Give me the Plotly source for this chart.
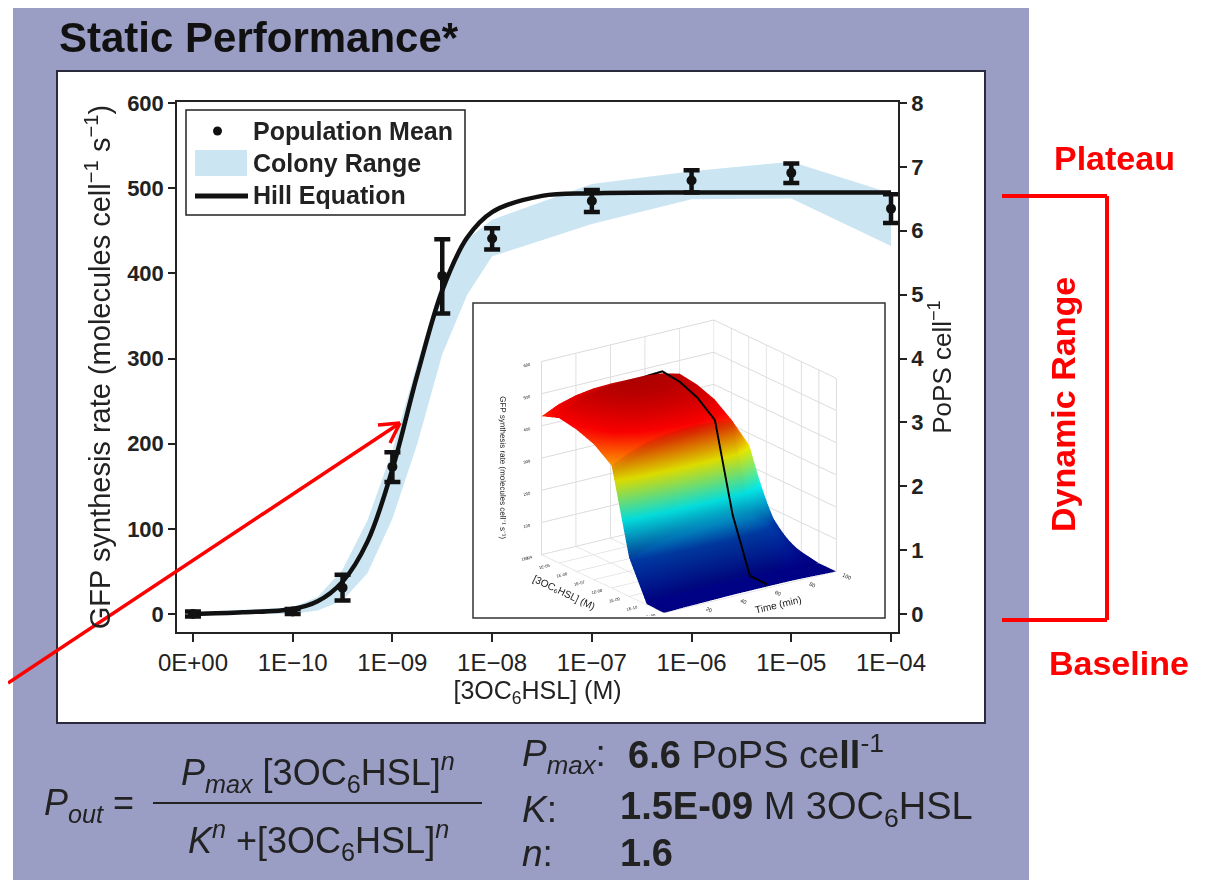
import plotly.graph_objects as go

W, H = 1212, 880
OFF = 8  # page body margin compensation

# ---------------- data ----------------
conc_ticks = [-11, -10, -9, -8, -7, -6, -5, -4]
conc_labels = ["0E+00", "1E−10", "1E−09", "1E−08", "1E−07", "1E−06", "1E−05", "1E−04"]

mean_x = [-11, -10, -9.5, -9, -8.5, -8, -7, -6, -5, -4]
mean_y = [0, 3, 31, 173, 397, 441, 485, 509, 518, 476]
err_plus = [3, 3, 15, 17, 43, 12, 13, 12, 11, 17]
err_minus = [3, 3, 15, 18, 44, 13, 13, 14, 12, 17]

band_x = [-11, -10, -9.75, -9.5, -9.25, -9, -8.75, -8.5, -8.25, -8, -7, -6, -5, -4]
band_hi = [2, 8, 20, 52, 110, 192, 295, 392, 440, 463, 505, 520, 531, 494]
band_lo = [0, 0, 4, 16, 48, 112, 200, 305, 375, 420, 458, 487, 488, 432]

hill_x = [-11, -10.5, -10, -9.75, -9.5, -9.25, -9, -8.75, -8.5, -8.25, -8, -7.5, -7, -6, -5, -4]
hill_y = [0, 2, 6, 15, 38, 85, 170, 281, 380, 442, 472, 491, 494, 495, 495, 495]

y_ticks = [0, 100, 200, 300, 400, 500, 600]
pops_ticks = [0, 1, 2, 3, 4, 5, 6, 7, 8]

# inset surface (rows: concentration level, columns: time)
inset_time = [0, 10, 20, 30, 40, 50, 60, 70, 80, 90, 100]
inset_conc = [0, 1, 2, 3, 4, 5, 6, 7]
inset_conc_labels = ["0E+00", "1E-10", "1E-09", "1E-08", "1E-07", "1E-06", "1E-05", "1E-04"]
inset_z = [
    [0, 2, 3, 4, 5, 5, 5, 5, 4, 2, 0],
    [2, 4, 5, 6, 6, 6, 6, 6, 5, 2, 0],
    [120, 140, 155, 165, 172, 175, 172, 165, 130, 60, 10],
    [380, 405, 425, 435, 440, 442, 438, 430, 340, 140, 20],
    [420, 450, 470, 480, 485, 486, 482, 470, 380, 150, 20],
    [440, 470, 490, 505, 510, 510, 505, 490, 400, 160, 25],
    [450, 480, 500, 512, 518, 518, 512, 498, 405, 165, 25],
    [430, 455, 470, 478, 480, 476, 470, 455, 370, 150, 20],
]
inset_line_time = 60
inset_line_z = [row[6] + 6 for row in inset_z]

# ---------------- helpers (pixel -> paper) ----------------
def px(x):
    return (x - OFF) / W

def py(y):
    return 1 - (y - OFF) / H

FONT = "Liberation Sans, Arial, sans-serif"

fig = go.Figure()

# colony range band
fig.add_trace(go.Scatter(
    x=band_x + band_x[::-1], y=band_hi + band_lo[::-1],
    fill="toself", fillcolor="#cbe6f2", line=dict(width=0),
    mode="lines", name="Colony Range", showlegend=False, hoverinfo="skip"))

# Hill equation
fig.add_trace(go.Scatter(
    x=hill_x, y=hill_y, mode="lines", line=dict(color="#111111", width=4.5, shape="spline"),
    name="Hill Equation", showlegend=False))

# population mean
fig.add_trace(go.Scatter(
    x=mean_x, y=mean_y, mode="markers",
    marker=dict(color="#111111", size=10),
    error_y=dict(type="data", array=err_plus, arrayminus=err_minus,
                 color="#111111", thickness=4.5, width=8),
    name="Population Mean", showlegend=False))

# dummy on right axis
fig.add_trace(go.Scatter(x=[None], y=[None], yaxis="y2", showlegend=False, hoverinfo="skip"))

# inset 3D surface
fig.add_trace(go.Surface(
    x=inset_time, y=inset_conc, z=inset_z, colorscale="Jet", cmin=0, cmax=560,
    showscale=False, scene="scene",
    lighting=dict(ambient=0.85, diffuse=0.35, specular=0.05, roughness=0.9),
    hoverinfo="skip"))
fig.add_trace(go.Scatter3d(
    x=[inset_line_time] * len(inset_conc), y=inset_conc, z=inset_line_z,
    mode="lines", line=dict(color="black", width=4), scene="scene",
    showlegend=False, hoverinfo="skip"))

axis_line = dict(showline=True, linecolor="#222222", linewidth=1.5, automargin=False)

fig.update_layout(
    width=W, height=H,
    margin=dict(l=0, r=0, t=0, b=0, autoexpand=False),
    paper_bgcolor="white", plot_bgcolor="rgba(0,0,0,0)",
    font=dict(family=FONT, color="#222222"),
    showlegend=False,
    xaxis=dict(
        domain=[px(177), px(898)], range=[-11.16, -3.93],
        tickvals=conc_ticks, ticktext=conc_labels,
        ticks="outside", ticklen=8, tickwidth=1.5, tickcolor="#222222",
        tickfont=dict(size=24, family=FONT, color="#222222"),
        title=dict(text="[3OC<sub>6</sub>HSL] (M)", font=dict(size=25, family=FONT), standoff=2),
        showgrid=False, zeroline=False, mirror=True, **axis_line),
    yaxis=dict(
        domain=[py(632), py(102)], range=[-21.1, 601.2],
        tickvals=y_ticks, ticks="outside", ticklen=7, tickwidth=1.5, tickcolor="#222222",
        tickfont=dict(size=22, family=FONT, color="#222222", weight="bold"),
        title=dict(text="GFP synthesis rate (molecules cell<sup>−1</sup> s<sup>−1</sup>)",
                   font=dict(size=29, family=FONT), standoff=8),
        showgrid=False, zeroline=False, **axis_line),
    yaxis2=dict(
        overlaying="y", side="right", anchor="x", range=[-21.1 / 75, 601.2 / 75],
        tickvals=pops_ticks, ticks="outside", ticklen=7, tickwidth=1.5, tickcolor="#222222",
        tickfont=dict(size=22, family=FONT, color="#222222", weight="bold"),
        title=dict(text="PoPS cell<sup>−1</sup>", font=dict(size=26, family=FONT), standoff=6),
        showgrid=False, zeroline=False, **axis_line),
    scene=dict(
        domain=dict(x=[px(475), px(883)], y=[py(616), py(305)]),
        bgcolor="white",
        xaxis=dict(title=dict(text="Time (min)", font=dict(size=10, family=FONT)),
                   range=[0, 100], tickvals=[0, 20, 40, 60, 80, 100],
                   tickfont=dict(size=8, family=FONT), backgroundcolor="white",
                   showbackground=True, gridcolor="#dcdcdc", showspikes=False, zeroline=False),
        yaxis=dict(title=dict(text="[3OC₆HSL] (M)", font=dict(size=10, family=FONT)),
                   range=[0, 7], tickvals=inset_conc, ticktext=inset_conc_labels,
                   tickfont=dict(size=7, family=FONT), backgroundcolor="white",
                   showbackground=True, gridcolor="#dcdcdc", showspikes=False, zeroline=False),
        zaxis=dict(title=dict(text="GFP synthesis rate (molecules cell⁻¹ s⁻¹)", font=dict(size=8, family=FONT)),
                   range=[0, 600], tickvals=[0, 100, 200, 300, 400, 500, 600],
                   tickfont=dict(size=7, family=FONT), backgroundcolor="white",
                   showbackground=True, gridcolor="#dcdcdc", showspikes=False, zeroline=False),
        camera=dict(eye=dict(x=-1.21, y=-1.59, z=0.76), center=dict(x=-0.05, y=0.04, z=0.04),
                    projection=dict(type="orthographic")),
        aspectmode="manual", aspectratio=dict(x=1.36, y=1.36, z=1.32),
    ),
)

shapes = []
# purple panel and white chart box
shapes.append(dict(type="rect", xref="paper", yref="paper", x0=px(13), x1=px(1029), y0=0, y1=1.02,
                   fillcolor="#9a9dc4", line=dict(width=0), layer="below"))
shapes.append(dict(type="rect", xref="paper", yref="paper", x0=px(57), x1=px(985), y0=py(723), y1=py(71),
                   fillcolor="white", line=dict(color="#2a2a3c", width=2), layer="below"))
# inset border
shapes.append(dict(type="rect", xref="paper", yref="paper", x0=px(473), x1=px(885), y0=py(618), y1=py(303),
                   line=dict(color="#333333", width=1.5), layer="above"))
# legend box
shapes.append(dict(type="rect", xref="paper", yref="paper", x0=px(186), x1=px(465), y0=py(215), y1=py(110),
                   fillcolor="white", line=dict(color="#222222", width=1.5), layer="above"))
shapes.append(dict(type="circle", xref="paper", yref="paper", x0=px(213), x1=px(222), y0=py(135.5), y1=py(126.5),
                   fillcolor="#111111", line=dict(width=0), layer="above"))
shapes.append(dict(type="rect", xref="paper", yref="paper", x0=px(195), x1=px(247), y0=py(176), y1=py(150),
                   fillcolor="#cbe6f2", line=dict(width=0), layer="above"))
shapes.append(dict(type="line", xref="paper", yref="paper", x0=px(195), x1=px(248), y0=py(196), y1=py(196),
                   line=dict(color="#111111", width=5), layer="above"))
# red bracket
red = "#ff0000"
for (x0, y0, x1, y1) in [(1002, 196, 1107, 196), (1107, 196, 1107, 620), (1107, 620, 1002, 620)]:
    shapes.append(dict(type="line", xref="paper", yref="paper", x0=px(x0), x1=px(x1), y0=py(y0), y1=py(y1),
                       line=dict(color=red, width=4), layer="above"))
# red arrow
for (x0, y0, x1, y1) in [(8, 683, 400, 423), (400, 423, 378, 425), (400, 423, 390, 443)]:
    shapes.append(dict(type="line", xref="paper", yref="paper", x0=px(x0), x1=px(x1), y0=py(y0), y1=py(y1),
                       line=dict(color=red, width=3.5), layer="above"))
# fraction bar
shapes.append(dict(type="line", xref="paper", yref="paper", x0=px(153), x1=px(482), y0=py(803), y1=py(803),
                   line=dict(color="#222222", width=2), layer="above"))
fig.update_layout(shapes=shapes)

ann = []
def text(x, y, s, size, xanchor="left", color="#222222", weight="normal", angle=0, family=FONT):
    ann.append(dict(xref="paper", yref="paper", x=px(x), y=py(y), text=s, showarrow=False,
                    xanchor=xanchor, yanchor="middle", textangle=angle,
                    font=dict(size=size, color=color, family=family, weight=weight)))

text(57, 38, "Static Performance*", 42, weight="bold", color="#111111")
# legend texts
text(251, 131, "Population Mean", 25, weight="bold")
text(251, 163, "Colony Range", 25, weight="bold")
text(251, 195, "Hill Equation", 25, weight="bold")
# red labels
text(1114, 158, "Plateau", 34, xanchor="center", color=red, weight="bold")
text(1063, 405, "Dynamic Range", 34, xanchor="center", color=red, weight="bold", angle=-90)
text(1119, 663, "Baseline", 34, xanchor="center", color=red, weight="bold")
# formula
text(42, 805, "<i>P</i><sub><i>out</i></sub> =", 36)
text(318, 772, "<i>P</i><sub><i>max</i></sub> [3OC<sub>6</sub>HSL]<sup><i>n</i></sup>", 36, xanchor="center")
text(318, 840, "<i>K</i><sup><i>n</i></sup> +[3OC<sub>6</sub>HSL]<sup><i>n</i></sup>", 36, xanchor="center")
text(520, 756, "<i>P</i><sub><i>max</i></sub>:", 37)
text(626, 752, "<b>6.6</b> PoPS ce<b>ll</b><sup>-1</sup>", 38)
text(520, 809, "<i>K</i>:", 37)
text(618, 809, "<b>1.5E-09</b> M 3OC<sub>6</sub>HSL", 38)
text(520, 853, "<i>n</i>:", 37)
text(618, 853, "<b>1.6</b>", 38)
fig.update_layout(annotations=ann)

fig.write_html("out.html")
